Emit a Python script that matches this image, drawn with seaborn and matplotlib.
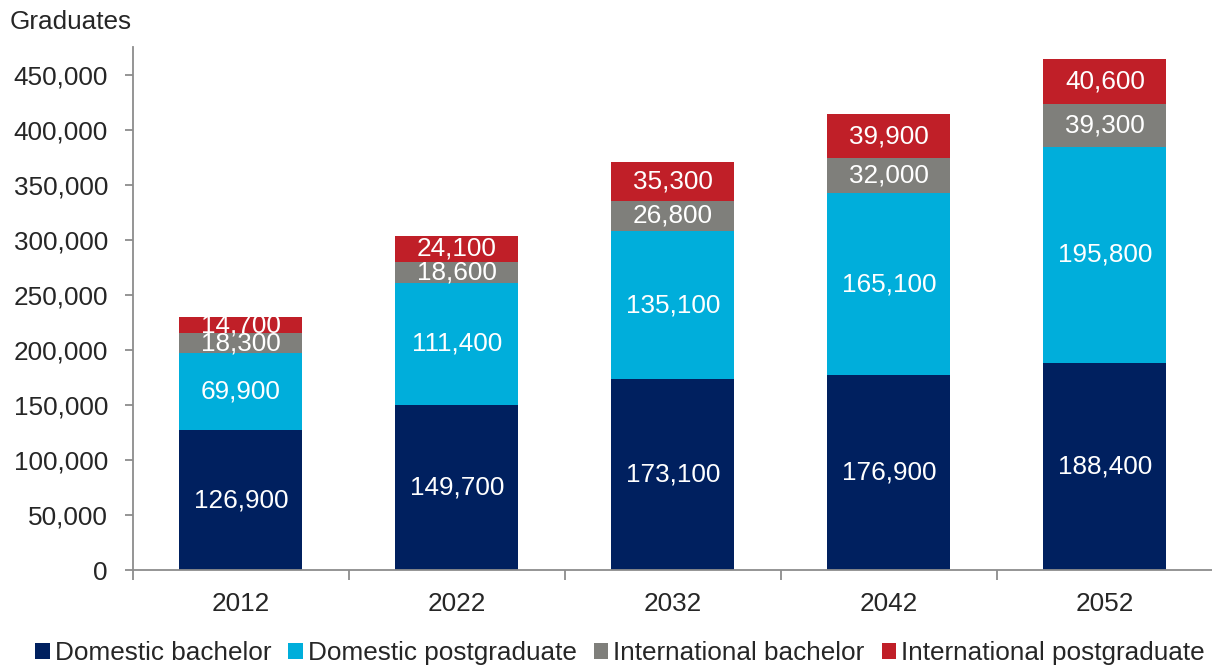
import matplotlib
matplotlib.use("Agg")
import matplotlib.pyplot as plt
from matplotlib.patches import Patch
from matplotlib.ticker import FuncFormatter, FixedLocator
import numpy as np
import pandas as pd
import seaborn as sns

years = ["2012", "2022", "2032", "2042", "2052"]
domestic_bachelor = [126900, 149700, 173100, 176900, 188400]
domestic_postgraduate = [69900, 111400, 135100, 165100, 195800]
international_bachelor = [18300, 18600, 26800, 32000, 39300]
international_postgraduate = [14700, 24100, 35300, 39900, 40600]

series_names = ["Domestic bachelor", "Domestic postgraduate",
                "International bachelor", "International postgraduate"]
series_values = [domestic_bachelor, domestic_postgraduate,
                 international_bachelor, international_postgraduate]
colors = ["#00205f", "#00aedb", "#7f7f7b", "#c01f28"]

sns.set_style("white")
plt.rcParams["font.family"] = ["Liberation Sans", "DejaVu Sans"]
FS = 18.8

fig = plt.figure(figsize=(12.12, 6.68), dpi=100)
ax = fig.add_axes([0.1097, 0.1467, 0.891, 0.7829])

vals = np.array(series_values, dtype=float)
cum = np.cumsum(vals, axis=0)

# Stacked bars: draw cumulative totals from the top segment down
for i in reversed(range(len(series_names))):
    df = pd.DataFrame({"year": years, "value": cum[i]})
    sns.barplot(data=df, x="year", y="value", color=colors[i], width=0.57,
                saturation=1, ax=ax, linewidth=0, errorbar=None)

# Segment value labels
for i in range(len(series_names)):
    for j in range(len(years)):
        mid = cum[i][j] - vals[i][j] / 2
        ax.text(j, mid, f"{int(vals[i][j]):,}",
                ha="center", va="center", color="white", fontsize=FS)

ax.set_xlim(-0.5, 4.5)
ax.set_ylim(0, 475000)
ax.set_yticks(np.arange(0, 450001, 50000))
ax.yaxis.set_major_formatter(FuncFormatter(lambda v, p: f"{int(v):,}"))
ax.set_xlabel("")
ax.set_ylabel("")

for s in ["top", "right"]:
    ax.spines[s].set_visible(False)
for s in ["left", "bottom"]:
    ax.spines[s].set_color("#8c8c8c")
    ax.spines[s].set_linewidth(1.3)

ax.tick_params(axis="y", which="major", direction="out", length=6, width=1.3,
               color="#8c8c8c", labelsize=FS, pad=12, left=True)
ax.tick_params(axis="x", which="major", length=0, labelsize=FS, pad=16)
ax.xaxis.set_minor_locator(FixedLocator(np.arange(-0.5, 4.6, 1.0)))
ax.tick_params(axis="x", which="minor", direction="out", length=7, width=1.3,
               color="#8c8c8c", bottom=True)

fig.text(0.008, 0.967, "Graduates", fontsize=FS, ha="left", va="center")

handles = [Patch(facecolor=c, edgecolor="none") for c in colors]
fig.legend(handles, series_names, loc="center", bbox_to_anchor=(0.5116, 0.022),
           ncol=4, frameon=False, fontsize=FS, handlelength=0.55,
           handleheight=0.55, handletextpad=0.2, columnspacing=0.65,
           borderaxespad=0, borderpad=0)

fig.savefig("out.png", dpi=100)
